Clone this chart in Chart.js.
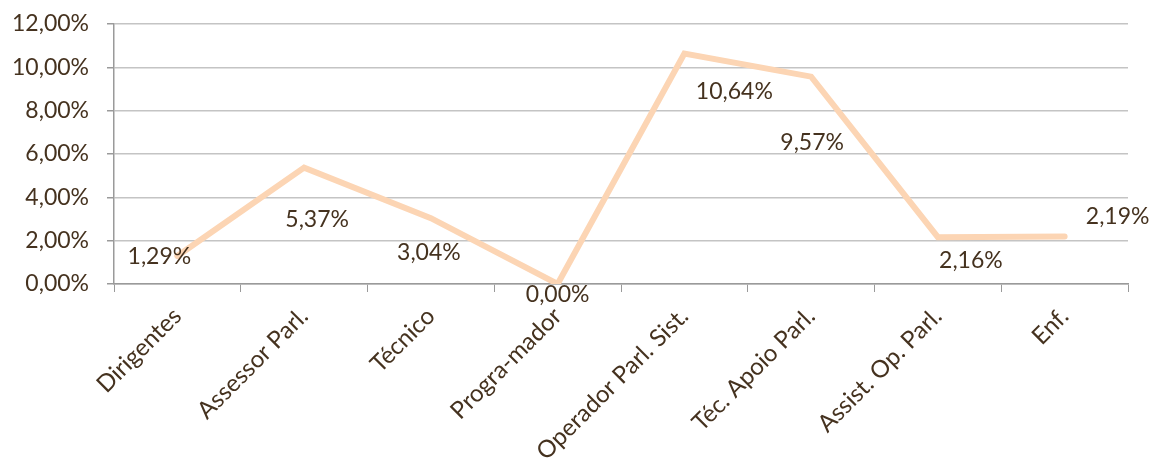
<!DOCTYPE html>
<html lang="pt">
<head>
<meta charset="utf-8">
<title>Percentual por cargo</title>
<script src="https://cdn.jsdelivr.net/npm/chart.js@4"></script>
<style>
  html, body { margin: 0; padding: 0; background: #fff; }
  #wrap { width: 1154px; height: 461px; position: relative; }
</style>
</head>
<body>
<div id="wrap"><canvas id="chart"></canvas></div>
<script>
// categories and values (percent)
const categories = ['Dirigentes', 'Assessor Parl.', 'Técnico', 'Progra-mador',
  'Operador Parl. Sist.', 'Téc. Apoio Parl.', 'Assist. Op. Parl.', 'Enf.'];
const values = [1.29, 5.37, 3.04, 0.00, 10.64, 9.57, 2.16, 2.19];
const yTicks = [0, 2, 4, 6, 8, 10, 12];

// where each value label sits relative to its point (px)
const labelOffsets = [[-18, 1], [13, 52], [-2, 34], [0, 11], [50, 38], [1, 66], [33, 23], [53, -20]];

const textColor = '#45321f';
const fontFamily = 'Lato, "Open Sans", sans-serif';

function pct(v) {
  return v.toFixed(2).replace('.', ',') + '%';
}

// draws the value labels next to the line
const valueLabels = {
  id: 'valueLabels',
  afterDatasetsDraw(chart) {
    const ctx = chart.ctx;
    const meta = chart.getDatasetMeta(0);
    ctx.save();
    ctx.font = '23px ' + fontFamily;
    ctx.fillStyle = textColor;
    ctx.textAlign = 'center';
    ctx.textBaseline = 'middle';
    meta.data.forEach((pt, i) => {
      const off = labelOffsets[i];
      ctx.fillText(pct(values[i]), pt.x + off[0], pt.y + off[1]);
    });
    ctx.restore();
  }
};

new Chart(document.getElementById('chart'), {
  type: 'line',
  data: {
    labels: categories,
    datasets: [{
      data: values,
      borderColor: '#fcd5b4',
      borderWidth: 6,
      borderCapStyle: 'round',
      borderJoinStyle: 'miter',
      pointRadius: 0,
      tension: 0,
      fill: false
    }]
  },
  options: {
    responsive: true,
    maintainAspectRatio: false,
    animation: false,
    layout: { padding: { left: 0, right: 26, top: 24, bottom: 0 } },
    plugins: {
      legend: { display: false },
      tooltip: { enabled: false }
    },
    scales: {
      x: {
        offset: true,
        grid: {
          offset: true,
          drawOnChartArea: false,
          drawTicks: true,
          tickLength: 8,
          color: '#9a9a9a'
        },
        border: { color: '#9a9a9a', width: 1.5 },
        ticks: {
          color: textColor,
          font: { family: fontFamily, size: 24 },
          minRotation: 45,
          maxRotation: 45,
          autoSkip: false,
          padding: 10
        },
        afterFit(scale) {
          scale.height = 177;
          scale.paddingLeft = 0;
          scale.paddingRight = 0;
        }
      },
      y: {
        min: 0,
        max: 12,
        afterBuildTicks(scale) {
          scale.ticks = yTicks.map(v => ({ value: v }));
        },
        grid: {
          color: '#c4c4c4',
          lineWidth: 1.5,
          drawTicks: true,
          tickLength: 7,
          tickColor: '#9a9a9a'
        },
        border: { color: '#9a9a9a', width: 1.5 },
        ticks: {
          color: textColor,
          font: { family: fontFamily, size: 23 },
          padding: 18,
          callback: v => pct(v)
        },
        afterFit(scale) {
          scale.width = 114;
          scale.paddingTop = 0;
          scale.paddingBottom = 0;
        }
      }
    }
  },
  plugins: [valueLabels]
});
</script>
</body>
</html>
